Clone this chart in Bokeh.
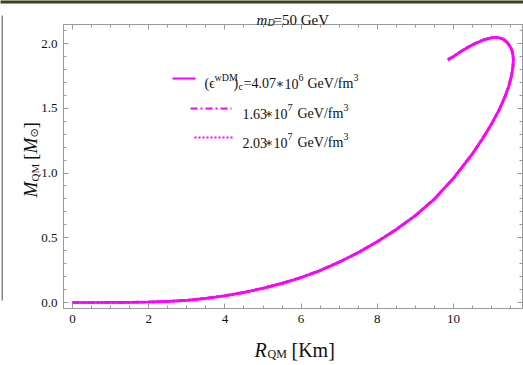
import numpy as np
from bokeh.plotting import figure
from bokeh.models import LinearAxis, Range1d, FixedTicker, CustomJSTickFormatter
from bokeh.core.properties import value
from bokeh.embed import file_html
from bokeh.resources import INLINE

# ---------------- data ----------------
radius_km = [0.0, 0.5, 1.0, 1.5, 2.0, 2.5, 3.0, 3.5, 4.0, 4.5, 5.0, 5.5, 6.0, 6.5,
             7.0, 7.5, 8.0, 8.5, 9.0, 9.5, 10.0, 10.5, 10.75, 11.0, 11.2, 11.35,
             11.45, 11.52, 11.56, 11.57, 11.55, 11.5, 11.42, 11.3, 11.15, 11.0,
             10.8, 10.6, 10.4, 10.2, 10.0, 9.85]
mass_msun = [0.0, 0.0001, 0.0005, 0.0017, 0.004, 0.009, 0.017, 0.032, 0.052, 0.078,
             0.110, 0.148, 0.193, 0.248, 0.312, 0.386, 0.47, 0.565, 0.672, 0.80,
             0.96, 1.15, 1.26, 1.38, 1.49, 1.59, 1.67, 1.75, 1.82, 1.88, 1.93,
             1.97, 2.005, 2.035, 2.048, 2.045, 2.03, 2.005, 1.975, 1.94, 1.90, 1.875]
# the three curves coincide in the picture
series_r = [radius_km, list(radius_km), list(radius_km)]
series_m = [mass_msun, list(mass_msun), list(mass_msun)]
series_dash = ["solid", "7 3 2 3", "2 2"]
x_ticks = [0, 2, 4, 6, 8, 10]
y_ticks = [0.0, 0.5, 1.0, 1.5, 2.0]

MAG = "#FF00FF"
GRAY = "#9a9a9a"
SERIF = "Liberation Serif"

W, H = 523, 365
FL, FT, FR, FB = 63, 24, 522, 308   # frame edges in canvas pixels
XR = (-0.236, 11.81)
YR = (-0.0463, 2.147)

p = figure(width=W, height=H, output_backend="svg", toolbar_location=None,
           x_range=Range1d(*XR), y_range=Range1d(*YR),
           min_border_left=FL, min_border_top=FT, min_border_right=W - FR,
           min_border_bottom=H - FB)
p.xgrid.visible = False
p.ygrid.visible = False
p.outline_line_color = GRAY
p.outline_line_width = 1
p.background_fill_color = "white"
p.border_fill_color = "white"


def style_axis(ax, ticks, minor, labels=True):
    ax.ticker = FixedTicker(ticks=ticks, minor_ticks=minor)
    ax.axis_line_color = GRAY
    ax.major_tick_line_color = GRAY
    ax.minor_tick_line_color = GRAY
    ax.major_tick_in = 5
    ax.major_tick_out = 0
    ax.minor_tick_in = 3
    ax.minor_tick_out = 0
    ax.major_label_text_font = SERIF
    ax.major_label_text_font_size = "13px"
    ax.major_label_text_color = "#111111"
    ax.major_label_standoff = 6
    if not labels:
        ax.formatter = CustomJSTickFormatter(code="return '';")
        ax.major_label_standoff = 0


x_minor = [i * 0.5 for i in range(0, 24)]
y_minor = [round(i * 0.1, 2) for i in range(0, 22)]
style_axis(p.xaxis[0], x_ticks, x_minor)
style_axis(p.yaxis[0], y_ticks, y_minor)
p.yaxis[0].formatter = CustomJSTickFormatter(code="return tick.toFixed(1);")

top_ax = LinearAxis()
right_ax = LinearAxis()
style_axis(top_ax, x_ticks, x_minor, labels=False)
style_axis(right_ax, y_ticks, y_minor, labels=False)
p.add_layout(top_ax, "above")
p.add_layout(right_ax, "right")

# ---------------- curves ----------------
for r, m, d in zip(series_r, series_m, series_dash):
    p.line(r, m, line_color=MAG, line_width=2.7, line_dash=d)


# ---------------- helpers: canvas pixel -> data position (for layout only) ----------------
def px2x(cx):
    return XR[0] + (cx - FL) / (FR - FL) * (XR[1] - XR[0])


def px2y(cy):
    return YR[0] + (FB - cy) / (FB - FT) * (YR[1] - YR[0])


def txt(s, cx, cy, size=14, style="normal", angle=0.0, color="#111111", font=SERIF):
    p.text(x=[px2x(cx)], y=[px2y(cy)], text=[s], text_font=value(font),
           text_font_size=f"{size}px", text_font_style=style, text_color=color,
           angle=angle, text_baseline="alphabetic", text_align="left",
           level="overlay")


# title
txt("m", 256, 19, 15, "italic")
txt("D", 267, 22, 10, "italic")
txt("=50 GeV", 273, 19, 15)

# cropped title of the next panel at the very bottom
txt("m", 253, 374, 15, "italic")
txt("D", 264, 377, 10, "italic")
txt("=100 GeV", 270, 374, 15)

# x label
txt("R", 254, 349, 20, "italic")
txt("QM", 267, 353, 12)
txt("[Km]", 291, 349, 20)

# y label (rotated)
A = np.pi / 2
txt("M", 30, 197, 19, "italic", angle=A)
txt("QM", 34, 181, 11, angle=A)
txt("[", 30, 159.5, 19, angle=A)
txt("M", 30, 153, 19, "italic", angle=A)
txt("\u2299", 34, 137, 11, angle=A, font="DejaVu Sans")
txt("]", 30, 128, 19, angle=A)

# ---------------- legend ----------------
leg_rows = [(172, 195, 78), (190, 231, 108), (194, 232, 137)]
for (x0, x1, yy), d in zip(leg_rows, series_dash):
    p.line([px2x(x0), px2x(x1)], [px2y(yy), px2y(yy)], line_color=MAG,
           line_width=2, line_dash=d)

STAR = "\u2217"
txt("(\u03f5", 204, 83, 14)
txt("wDM", 214, 77, 10)
txt(")", 233, 83, 14)
txt("c", 238, 86, 10)
txt("=4.07", 243, 83, 14)
txt(STAR, 275, 83, 13, font="DejaVu Serif")
txt("10", 284, 83, 14)
txt("6", 298, 77, 10)
txt("GeV/fm", 307, 83, 14)
txt("3", 353, 77, 10)

for lab, by in (("1.63", 113), ("2.03", 142)):
    txt(lab, 242, by, 14)
    txt(STAR, 264, by, 13, font="DejaVu Serif")
    txt("10", 273, by, 14)
    txt("7", 287, by - 6, 10)
    txt("GeV/fm", 297, by, 14)
    txt("3", 343, by - 6, 10)

# ---------------- crop artifacts of the larger figure ----------------
p.quad(left=[px2x(0)], right=[px2x(W)], top=[px2y(0)], bottom=[px2y(3)],
       fill_color="#3f3f1c", line_alpha=0, level="overlay")
p.quad(left=[px2x(1)], right=[px2x(2.5)], top=[px2y(15)], bottom=[px2y(300)],
       fill_color="#8a8a8a", line_alpha=0, level="overlay")

open("out.html", "w").write(file_html(p, INLINE))
